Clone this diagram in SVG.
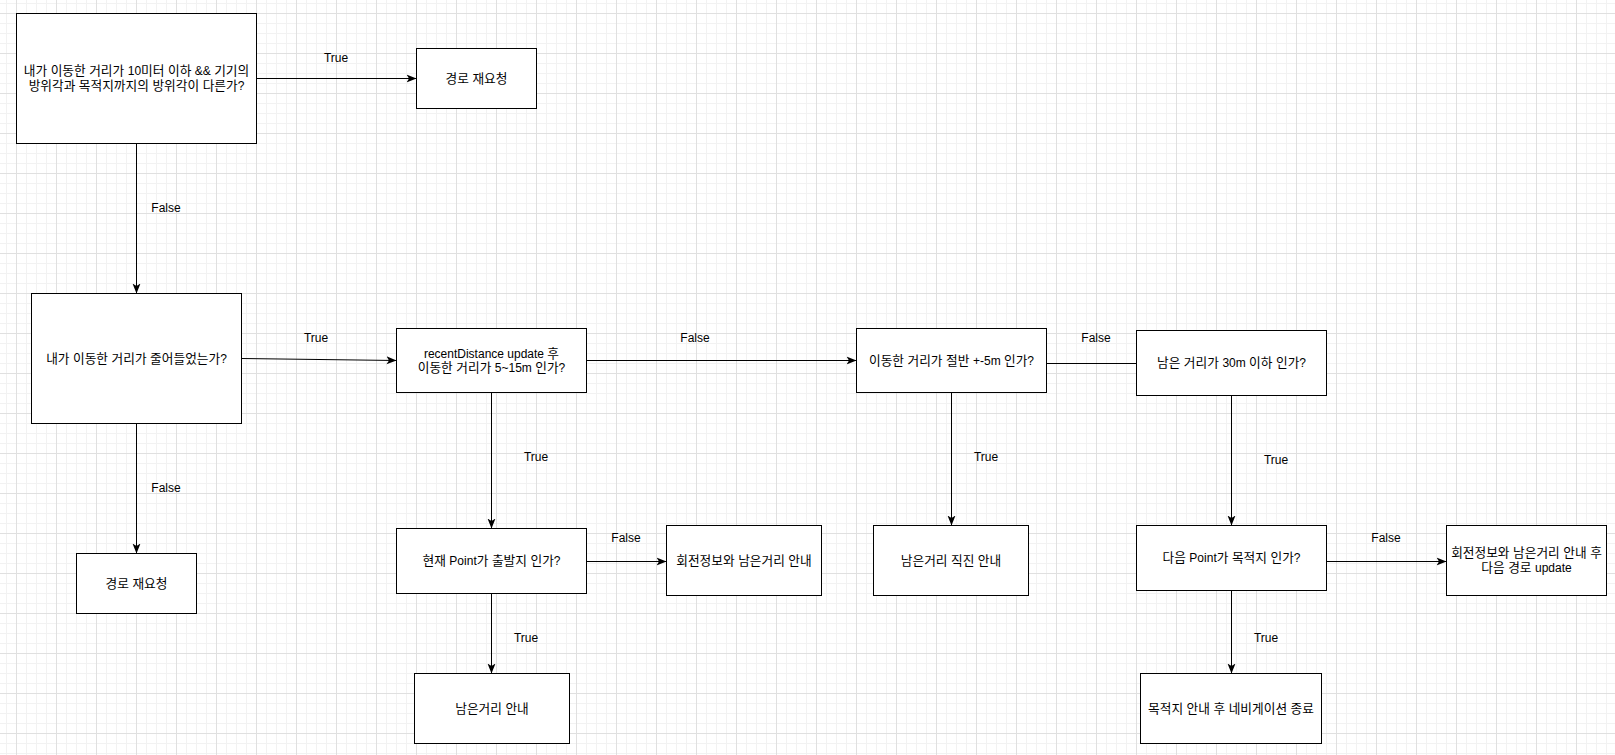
<svg xmlns="http://www.w3.org/2000/svg" width="1615" height="755" viewBox="0 0 1615 755">
<defs>
<pattern id="grid" x="16" y="13" width="40" height="40" patternUnits="userSpaceOnUse">
<rect width="40" height="40" fill="#ffffff"/>
<path d="M10.5 0V40M20.5 0V40M30.5 0V40M0 10.5H40M0 20.5H40M0 30.5H40" stroke="#f2f2f2" stroke-width="1" fill="none"/>
<path d="M0.5 0V40M0 0.5H40" stroke="#e0e0e0" stroke-width="1" fill="none"/>
</pattern>
<marker id="arr" markerUnits="userSpaceOnUse" markerWidth="12" markerHeight="10" viewBox="0 0 12 10" refX="10" refY="5" orient="auto">
<path d="M0,1 L10,5 L0,9 L2.5,5 Z" fill="#000"/>
</marker>
</defs>
<style>
.box{fill:#ffffff;stroke:#000000;stroke-width:1}
.t{font-family:"Liberation Sans","Noto Sans CJK KR",sans-serif;font-size:12px;fill:#000000;text-anchor:middle}
.k{font-size:12.7px}
.e{fill:none;stroke:#000000;stroke-width:1}
.ea{fill:none;stroke:#000000;stroke-width:1;marker-end:url(#arr)}
</style>
<rect width="1615" height="755" fill="url(#grid)"/>

<g id="connectors">
<path class="ea" d="M256.5 78.5H416.5"/>
<text class="t" x="336" y="62">True</text>
<path class="ea" d="M136.5 143.5V293.5"/>
<text class="t" x="166" y="212">False</text>
<path class="ea" d="M241.5 358.5L396.5 360.5"/>
<text class="t" x="316" y="342">True</text>
<path class="ea" d="M136.5 423.5V553.5"/>
<text class="t" x="166" y="492">False</text>
<path class="ea" d="M586.5 360.5H856.5"/>
<text class="t" x="695" y="342">False</text>
<path class="e" d="M1046.5 363.5H1136.5"/>
<text class="t" x="1096" y="342">False</text>
<path class="ea" d="M491.5 392.5V528.5"/>
<text class="t" x="536" y="461">True</text>
<path class="ea" d="M951.5 392.5V525.5"/>
<text class="t" x="986" y="461">True</text>
<path class="ea" d="M1231.5 395.5V525.5"/>
<text class="t" x="1276" y="464">True</text>
<path class="ea" d="M586.5 561.5H666.5"/>
<text class="t" x="626" y="542">False</text>
<path class="ea" d="M491.5 593.5V673.5"/>
<text class="t" x="526" y="642">True</text>
<path class="ea" d="M1326.5 561.5H1446.5"/>
<text class="t" x="1386" y="542">False</text>
<path class="ea" d="M1231.5 590.5V673.5"/>
<text class="t" x="1266" y="642">True</text>
</g>

<g id="nodeA">
<rect class="box" x="16.5" y="13.5" width="240" height="130"/>
<text class="t" x="136.5" y="75"><tspan class="k">내가 이동한 거리가 </tspan>10<tspan class="k">미터 이하 </tspan>&amp;&amp; <tspan class="k">기기의</tspan></text>
<text class="t" x="136.5" y="90"><tspan class="k">방위각과 목적지까지의 방위각이 다른가</tspan>?</text>
</g>
<g id="nodeB">
<rect class="box" x="416.5" y="48.5" width="120" height="60"/>
<text class="t" x="476.5" y="83"><tspan class="k">경로 재요청</tspan></text>
</g>
<g id="nodeC">
<rect class="box" x="31.5" y="293.5" width="210" height="130"/>
<text class="t" x="136.5" y="363"><tspan class="k">내가 이동한 거리가 줄어들었는가</tspan>?</text>
</g>
<g id="nodeD">
<rect class="box" x="396.5" y="328.5" width="190" height="64"/>
<text class="t" x="491.5" y="358">recentDistance update <tspan class="k">후</tspan></text>
<text class="t" x="491.5" y="372"><tspan class="k">이동한 거리가 </tspan>5~15m <tspan class="k">인가</tspan>?</text>
</g>
<g id="nodeE">
<rect class="box" x="76.5" y="553.5" width="120" height="60"/>
<text class="t" x="136.5" y="588"><tspan class="k">경로 재요청</tspan></text>
</g>
<g id="nodeF">
<rect class="box" x="856.5" y="328.5" width="190" height="64"/>
<text class="t" x="951.5" y="365"><tspan class="k">이동한 거리가 절반 </tspan>+-5m <tspan class="k">인가</tspan>?</text>
</g>
<g id="nodeG">
<rect class="box" x="1136.5" y="330.5" width="190" height="65"/>
<text class="t" x="1231.5" y="367"><tspan class="k">남은 거리가 </tspan>30m <tspan class="k">이하 인가</tspan>?</text>
</g>
<g id="nodeH">
<rect class="box" x="396.5" y="528.5" width="190" height="65"/>
<text class="t" x="491.5" y="565"><tspan class="k">현재 </tspan>Point<tspan class="k">가 출발지 인가</tspan>?</text>
</g>
<g id="nodeI">
<rect class="box" x="666.5" y="525.5" width="155" height="70"/>
<text class="t" x="744" y="565"><tspan class="k">회전정보와 남은거리 안내</tspan></text>
</g>
<g id="nodeJ">
<rect class="box" x="414.5" y="673.5" width="155" height="70"/>
<text class="t" x="492" y="713"><tspan class="k">남은거리 안내</tspan></text>
</g>
<g id="nodeK">
<rect class="box" x="873.5" y="525.5" width="155" height="70"/>
<text class="t" x="951" y="565"><tspan class="k">남은거리 직진 안내</tspan></text>
</g>
<g id="nodeL">
<rect class="box" x="1136.5" y="525.5" width="190" height="65"/>
<text class="t" x="1231.5" y="562"><tspan class="k">다음 </tspan>Point<tspan class="k">가 목적지 인가</tspan>?</text>
</g>
<g id="nodeM">
<rect class="box" x="1446.5" y="525.5" width="160" height="70"/>
<text class="t" x="1526.5" y="557"><tspan class="k">회전정보와 남은거리 안내 후</tspan></text>
<text class="t" x="1526.5" y="572"><tspan class="k">다음 경로 </tspan>update</text>
</g>
<g id="nodeN">
<rect class="box" x="1140.5" y="673.5" width="181" height="70"/>
<text class="t" x="1231" y="713"><tspan class="k">목적지 안내 후 네비게이션 종료</tspan></text>
</g>
</svg>
